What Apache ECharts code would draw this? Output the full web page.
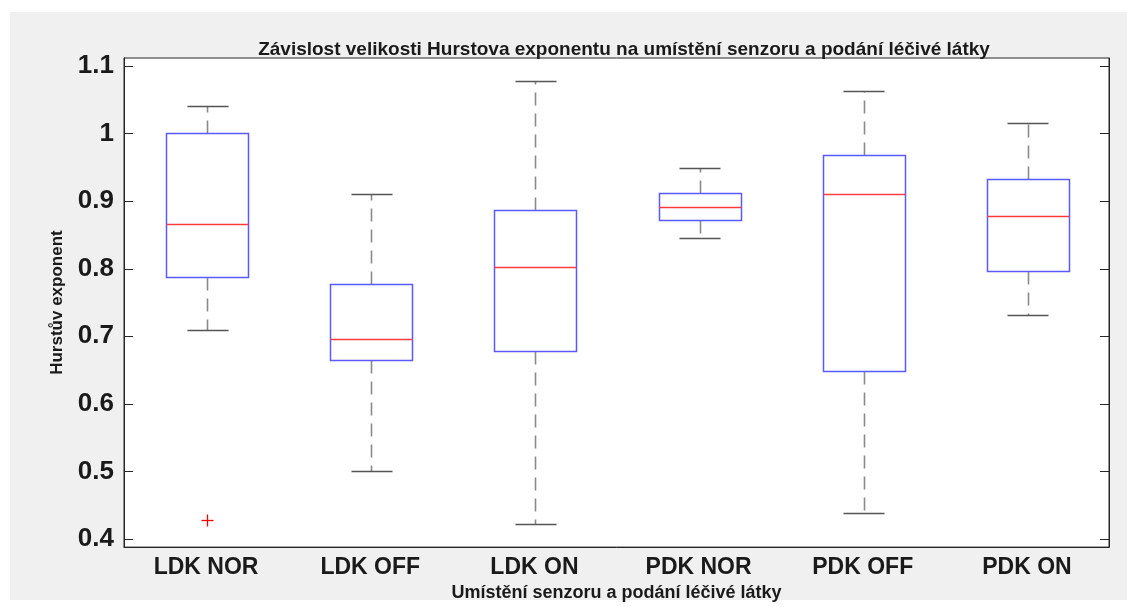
<!DOCTYPE html>
<html>
<head>
<meta charset="utf-8">
<script src="https://cdn.jsdelivr.net/npm/echarts@6/dist/echarts.min.js"></script>
<style>
html,body{margin:0;padding:0;background:#fff;}
#chart{width:1127px;height:607px;}
</style>
</head>
<body>
<div id="chart"></div>
<script>
const categories = ['LDK NOR', 'LDK OFF', 'LDK ON', 'PDK NOR', 'PDK OFF', 'PDK ON'];
const lowerWhisker = [0.709, 0.501, 0.422, 0.845, 0.439, 0.731];
const q1Values     = [0.788, 0.665, 0.679, 0.872, 0.648, 0.796];
const medianValues = [0.866, 0.696, 0.802, 0.891, 0.910, 0.878];
const q3Values     = [1.001, 0.777, 0.887, 0.912, 0.968, 0.933];
const upperWhisker = [1.041, 0.910, 1.078, 0.949, 1.063, 1.016];
const outlierCategory = [0];
const outlierValues = [0.428];
const yTickValues = [0.4, 0.5, 0.6, 0.7, 0.8, 0.9, 1.0, 1.1];

const boxData = categories.map((c, i) => [i, lowerWhisker[i], q1Values[i], medianValues[i], q3Values[i], upperWhisker[i]]);
const outlierData = outlierValues.map((v, i) => [outlierCategory[i], v]);

const r = v => Math.round(v) + 0.5;

function renderBox(params, api) {
  const i = api.value(0);
  const band = api.size([1, 0])[0];
  const bw = band * 0.5, cw = band * 0.25;
  const x = api.coord([i, 0])[0] + 1;
  const yLow = api.coord([i, api.value(1)])[1];
  const yQ1 = api.coord([i, api.value(2)])[1];
  const yMed = api.coord([i, api.value(3)])[1];
  const yQ3 = api.coord([i, api.value(4)])[1];
  const yHigh = api.coord([i, api.value(5)])[1];
  const dash = {stroke: '#8a8a8a', lineWidth: 1.6, lineDash: [13, 8]};
  const cap = {stroke: '#555555', lineWidth: 1.5};
  return {
    type: 'group',
    children: [
      {type: 'line', shape: {x1: r(x), y1: r(yQ3), x2: r(x), y2: r(yHigh)}, style: dash},
      {type: 'line', shape: {x1: r(x), y1: r(yQ1), x2: r(x), y2: r(yLow)}, style: dash},
      {type: 'line', shape: {x1: r(x - cw / 2), y1: r(yHigh), x2: r(x + cw / 2), y2: r(yHigh)}, style: cap},
      {type: 'line', shape: {x1: r(x - cw / 2), y1: r(yLow), x2: r(x + cw / 2), y2: r(yLow)}, style: cap},
      {type: 'rect', shape: {x: r(x - bw / 2), y: r(yQ3), width: Math.round(bw), height: Math.round(yQ1) - Math.round(yQ3)},
        style: {fill: '#ffffff', stroke: '#5a5aff', lineWidth: 1.5}},
      {type: 'line', shape: {x1: r(x - bw / 2), y1: r(yMed), x2: r(x - bw / 2) + Math.round(bw), y2: r(yMed)},
        style: {stroke: '#ff3c3c', lineWidth: 1.5}}
    ]
  };
}

function renderOutlier(params, api) {
  const p = api.coord([api.value(0), api.value(1)]);
  const h = 6;
  const st = {stroke: '#ff0000', lineWidth: 1.3};
  return {
    type: 'group',
    children: [
      {type: 'line', shape: {x1: r(p[0] - h + 1), y1: r(p[1]), x2: r(p[0] + h + 1), y2: r(p[1])}, style: st},
      {type: 'line', shape: {x1: r(p[0] + 1), y1: r(p[1] - h), x2: r(p[0] + 1), y2: r(p[1] + h)}, style: st}
    ]
  };
}

const axisColor = '#262626';
const fontFam = '"Liberation Sans", Arial, sans-serif';

const chart = echarts.init(document.getElementById('chart'), null, {renderer: 'canvas'});
chart.setOption({
  animation: false,
  backgroundColor: '#ffffff',
  graphic: [{
    type: 'rect', left: 10, top: 12, z: -100,
    shape: {width: 1117, height: 588},
    style: {fill: '#f0f0f0'}
  }],
  title: {
    text: 'Závislost velikosti Hurstova exponentu na umístění senzoru a podání léčivé látky',
    left: 619, top: 35, textAlign: 'center',
    textStyle: {fontFamily: fontFam, fontWeight: 'bold', fontSize: 19, color: '#1a1a1a'}
  },
  grid: {
    left: 124, right: 18, top: 58, bottom: 58,
    show: true, backgroundColor: '#ffffff', borderColor: axisColor, borderWidth: 1,
    containLabel: false
  },
  xAxis: {
    type: 'category',
    data: categories,
    boundaryGap: true,
    name: 'Umístění senzoru a podání léčivé látky',
    nameLocation: 'middle',
    nameGap: 36,
    nameTextStyle: {fontFamily: fontFam, fontWeight: 'bold', fontSize: 18, color: '#1a1a1a'},
    axisLine: {show: true, lineStyle: {color: axisColor}},
    axisTick: {show: false},
    axisLabel: {margin: 9, fontFamily: fontFam, fontWeight: 'bold', fontSize: 23, color: '#1a1a1a'},
    splitLine: {show: false}
  },
  yAxis: [{
    type: 'value',
    min: 0.388, max: 1.112,
    name: 'Hurstův exponent',
    nameLocation: 'middle',
    nameGap: 58,
    nameTextStyle: {fontFamily: fontFam, fontWeight: 'bold', fontSize: 17, color: '#1a1a1a'},
    axisLine: {show: true, lineStyle: {color: axisColor}},
    axisTick: {show: true, inside: true, length: 9, customValues: yTickValues, lineStyle: {color: axisColor}},
    axisLabel: {
      margin: 10, customValues: yTickValues,
      fontFamily: fontFam, fontWeight: 'bold', fontSize: 26, color: '#1a1a1a',
      formatter: v => String(Math.round(v * 10) / 10)
    },
    splitLine: {show: false}
  }, {
    type: 'value',
    position: 'right',
    min: 0.388, max: 1.112,
    axisLine: {show: true, lineStyle: {color: axisColor}},
    axisTick: {show: true, inside: true, length: 9, customValues: yTickValues, lineStyle: {color: axisColor}},
    axisLabel: {show: false},
    splitLine: {show: false}
  }],
  series: [{
    type: 'custom',
    name: 'box',
    renderItem: renderBox,
    encode: {x: 0, y: [1, 2, 3, 4, 5]},
    data: boxData,
    z: 5
  }, {
    type: 'custom',
    name: 'outlier',
    renderItem: renderOutlier,
    encode: {x: 0, y: 1},
    data: outlierData,
    z: 6
  }]
});
</script>
</body>
</html>
